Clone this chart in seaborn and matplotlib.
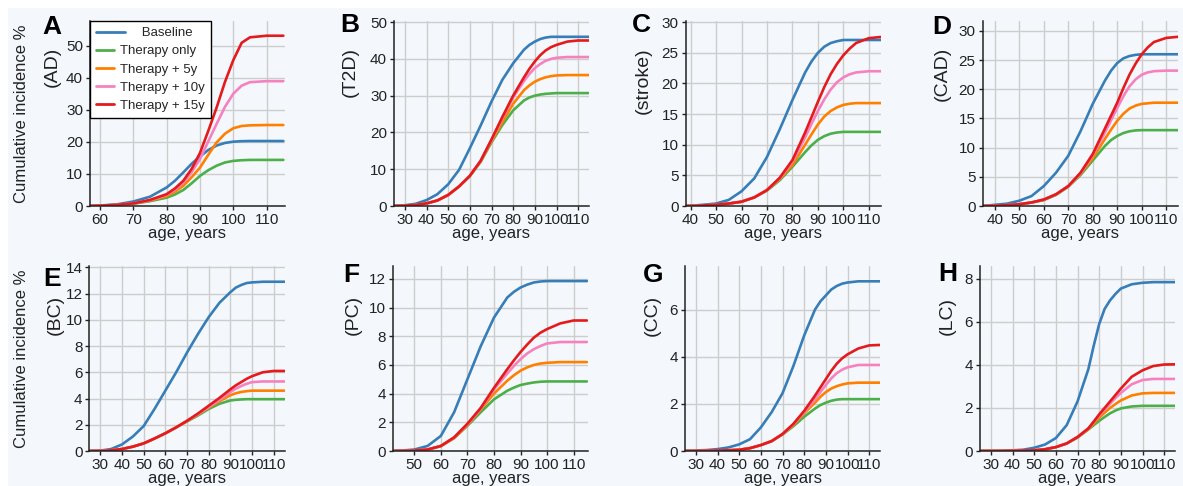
import numpy as np
import pandas as pd
import matplotlib
matplotlib.use('Agg')
import matplotlib.pyplot as plt
import seaborn as sns
from matplotlib.patches import Rectangle

series = ['Baseline', 'Therapy only', 'Therapy + 5y', 'Therapy + 10y', 'Therapy + 15y']
colors = ['#377eb8', '#4daf4a', '#ff7f00', '#f781bf', '#e41a1c']

# A - AD
ad_age = [57, 60, 65, 70, 75, 80, 82.5, 85, 87.5, 90, 92.5, 95, 97.5, 100, 102.5, 105, 110, 115]
ad_base = [0, 0.15, 0.5, 1.4, 2.9, 5.8, 7.9, 10.5, 13.2, 15.5, 17.5, 18.9, 19.7, 20.1, 20.25, 20.3, 20.3, 20.3]
ad_ther = [0, 0.1, 0.3, 0.7, 1.5, 2.6, 3.6, 5.0, 7.1, 9.4, 11.2, 12.6, 13.6, 14.1, 14.3, 14.4, 14.4, 14.4]
ad_5y = [0, 0.1, 0.35, 0.8, 1.7, 3.1, 4.5, 6.3, 9.0, 12.0, 16.0, 19.9, 22.6, 24.3, 25.0, 25.2, 25.3, 25.3]
ad_10y = [0, 0.1, 0.35, 0.8, 1.8, 3.5, 5.1, 7.3, 10.6, 14.7, 20.2, 25.7, 31.0, 35.1, 37.6, 38.7, 39.0, 39.0]
ad_15y = [0, 0.1, 0.35, 0.8, 1.9, 3.7, 5.5, 7.9, 11.6, 16.6, 23.5, 30.8, 38.8, 45.6, 51.0, 52.7, 53.2, 53.2]

# B - T2D
t2d_age = [25, 30, 35, 40, 45, 50, 55, 60, 65, 70, 75, 80, 85, 87.5, 90, 92.5, 95, 97.5, 100, 105, 110, 115]
t2d_base = [0, 0.2, 0.6, 1.6, 3.2, 5.9, 9.8, 15.7, 21.9, 28.4, 34.3, 38.8, 42.5, 43.8, 44.7, 45.4, 45.8, 46.0, 46.0, 46.0, 46.0, 46.0]
t2d_ther = [0, 0.1, 0.3, 0.7, 1.5, 3.0, 5.3, 8.1, 12.0, 17.3, 22.0, 26.0, 28.7, 29.5, 30.0, 30.3, 30.5, 30.6, 30.7, 30.7, 30.7, 30.7]
t2d_5y = [0, 0.1, 0.3, 0.7, 1.5, 3.0, 5.3, 8.2, 12.2, 17.6, 22.8, 27.8, 31.5, 32.8, 33.8, 34.5, 35.0, 35.3, 35.5, 35.6, 35.6, 35.6]
t2d_10y = [0, 0.1, 0.3, 0.7, 1.5, 3.0, 5.3, 8.2, 12.3, 17.9, 23.8, 29.5, 34.0, 35.9, 37.5, 38.6, 39.5, 40.0, 40.3, 40.5, 40.5, 40.5]
t2d_15y = [0, 0.1, 0.3, 0.7, 1.5, 3.0, 5.3, 8.2, 12.3, 18.1, 24.2, 30.0, 35.0, 37.3, 39.3, 41.0, 42.3, 43.2, 43.8, 44.7, 45.0, 45.0]

# C - stroke
str_age = [38, 40, 45, 50, 55, 60, 65, 70, 75, 80, 85, 87.5, 90, 92.5, 95, 97.5, 100, 102.5, 105, 110, 115]
str_base = [0, 0.05, 0.2, 0.4, 1.0, 2.4, 4.5, 8.0, 12.5, 17.3, 21.8, 23.6, 25.0, 26.0, 26.6, 26.9, 27.1, 27.1, 27.1, 27.1, 27.1]
str_ther = [0, 0, 0.1, 0.2, 0.4, 0.7, 1.4, 2.5, 4.2, 6.4, 8.8, 9.9, 10.8, 11.4, 11.8, 12.0, 12.1, 12.1, 12.1, 12.1, 12.1]
str_5y = [0, 0, 0.1, 0.2, 0.4, 0.7, 1.4, 2.6, 4.4, 6.7, 10.0, 11.7, 13.3, 14.6, 15.5, 16.1, 16.5, 16.7, 16.8, 16.8, 16.8]
str_10y = [0, 0, 0.1, 0.2, 0.4, 0.7, 1.4, 2.6, 4.5, 7.2, 11.2, 13.4, 15.5, 17.4, 19.0, 20.2, 21.0, 21.5, 21.8, 22.0, 22.0]
str_15y = [0, 0, 0.1, 0.2, 0.4, 0.7, 1.4, 2.6, 4.6, 7.5, 12.0, 14.5, 17.0, 19.4, 21.5, 23.2, 24.6, 25.7, 26.6, 27.4, 27.6]

# D - CAD
cad_age = [35, 40, 45, 50, 55, 60, 65, 70, 75, 80, 85, 87.5, 90, 92.5, 95, 97.5, 100, 102.5, 105, 110, 115]
cad_base = [0, 0.2, 0.4, 0.9, 1.7, 3.4, 5.7, 8.6, 12.8, 17.5, 21.5, 23.2, 24.5, 25.3, 25.7, 25.9, 26.0, 26.0, 26.0, 26.0, 26.0]
cad_ther = [0, 0.05, 0.15, 0.3, 0.6, 1.0, 1.9, 3.3, 5.3, 7.8, 10.3, 11.3, 12.0, 12.5, 12.8, 12.95, 13.0, 13.0, 13.0, 13.0, 13.0]
cad_5y = [0, 0.05, 0.15, 0.3, 0.6, 1.1, 2.0, 3.4, 5.5, 8.2, 11.5, 13.1, 14.6, 15.8, 16.7, 17.2, 17.5, 17.6, 17.7, 17.7, 17.7]
cad_10y = [0, 0.05, 0.15, 0.3, 0.6, 1.1, 2.0, 3.4, 5.6, 8.7, 12.6, 14.7, 16.8, 18.8, 20.5, 21.7, 22.5, 22.9, 23.1, 23.2, 23.2]
cad_15y = [0, 0.05, 0.15, 0.3, 0.6, 1.1, 2.0, 3.4, 5.7, 8.9, 13.3, 15.5, 17.7, 20.2, 22.5, 24.4, 26.0, 27.2, 28.1, 28.8, 29.0]

# E - BC
bc_age = [25, 30, 35, 40, 45, 50, 55, 60, 65, 70, 75, 80, 85, 90, 92.5, 95, 97.5, 100, 105, 110, 115]
bc_base = [0, 0.03, 0.15, 0.5, 1.1, 1.9, 3.2, 4.6, 6.0, 7.5, 8.9, 10.2, 11.3, 12.1, 12.45, 12.65, 12.8, 12.85, 12.9, 12.9, 12.9]
bc_ther = [0, 0, 0.05, 0.15, 0.33, 0.58, 0.95, 1.35, 1.8, 2.25, 2.7, 3.2, 3.6, 3.85, 3.9, 3.93, 3.95, 3.95, 3.95, 3.95, 3.95]
bc_5y = [0, 0, 0.05, 0.15, 0.33, 0.58, 0.95, 1.35, 1.8, 2.28, 2.78, 3.3, 3.8, 4.25, 4.4, 4.5, 4.56, 4.6, 4.6, 4.6, 4.6]
bc_10y = [0, 0, 0.05, 0.15, 0.33, 0.58, 0.95, 1.35, 1.8, 2.3, 2.8, 3.35, 3.9, 4.5, 4.75, 4.95, 5.12, 5.25, 5.3, 5.3, 5.3]
bc_15y = [0, 0, 0.05, 0.15, 0.33, 0.58, 0.95, 1.35, 1.8, 2.3, 2.85, 3.45, 4.05, 4.7, 5.0, 5.25, 5.5, 5.7, 6.0, 6.1, 6.1]

# F - PC
pc_age = [42, 45, 50, 55, 60, 65, 70, 75, 80, 85, 87.5, 90, 92.5, 95, 97.5, 100, 105, 110, 115]
pc_base = [0, 0.03, 0.1, 0.35, 1.05, 2.7, 5.0, 7.3, 9.3, 10.7, 11.1, 11.4, 11.6, 11.75, 11.82, 11.85, 11.85, 11.85, 11.85]
pc_ther = [0, 0, 0.03, 0.1, 0.33, 0.9, 1.75, 2.7, 3.6, 4.2, 4.42, 4.6, 4.7, 4.78, 4.83, 4.85, 4.85, 4.85, 4.85]
pc_5y = [0, 0, 0.03, 0.1, 0.35, 0.9, 1.8, 2.9, 4.0, 4.9, 5.28, 5.6, 5.83, 6.0, 6.1, 6.15, 6.2, 6.2, 6.2]
pc_10y = [0, 0, 0.03, 0.1, 0.35, 0.95, 1.85, 2.95, 4.3, 5.4, 5.93, 6.4, 6.8, 7.1, 7.32, 7.5, 7.6, 7.6, 7.6]
pc_15y = [0, 0, 0.03, 0.1, 0.35, 0.95, 1.9, 3.0, 4.4, 5.7, 6.32, 6.9, 7.42, 7.9, 8.25, 8.5, 8.9, 9.1, 9.1]

# G - CC
cc_age = [25, 30, 35, 40, 45, 50, 55, 60, 65, 70, 75, 80, 85, 87.5, 90, 92.5, 95, 97.5, 100, 105, 110, 115]
cc_base = [0, 0.02, 0.04, 0.08, 0.15, 0.28, 0.5, 1.0, 1.65, 2.45, 3.6, 4.9, 6.0, 6.35, 6.6, 6.85, 7.0, 7.1, 7.15, 7.2, 7.2, 7.2]
cc_ther = [0, 0, 0.01, 0.02, 0.03, 0.05, 0.12, 0.25, 0.42, 0.7, 1.05, 1.45, 1.8, 1.95, 2.05, 2.13, 2.18, 2.2, 2.2, 2.2, 2.2, 2.2]
cc_5y = [0, 0, 0.01, 0.02, 0.03, 0.05, 0.12, 0.25, 0.42, 0.71, 1.1, 1.6, 2.05, 2.3, 2.5, 2.65, 2.75, 2.82, 2.87, 2.9, 2.9, 2.9]
cc_10y = [0, 0, 0.01, 0.02, 0.03, 0.05, 0.12, 0.25, 0.42, 0.72, 1.13, 1.65, 2.2, 2.5, 2.8, 3.08, 3.3, 3.45, 3.55, 3.65, 3.65, 3.65]
cc_15y = [0, 0, 0.01, 0.02, 0.03, 0.05, 0.12, 0.25, 0.42, 0.72, 1.15, 1.7, 2.35, 2.7, 3.05, 3.4, 3.7, 3.93, 4.1, 4.35, 4.48, 4.5]

# H - LC
lc_age = [25, 30, 35, 40, 45, 50, 55, 60, 65, 70, 75, 77.5, 80, 82.5, 85, 87.5, 90, 95, 100, 105, 110, 115]
lc_base = [0, 0, 0.01, 0.03, 0.06, 0.15, 0.3, 0.6, 1.2, 2.3, 3.8, 4.9, 5.9, 6.6, 7.0, 7.3, 7.55, 7.75, 7.82, 7.85, 7.85, 7.85]
lc_ther = [0, 0, 0, 0.01, 0.02, 0.03, 0.08, 0.18, 0.35, 0.62, 1.0, 1.2, 1.4, 1.58, 1.75, 1.88, 1.98, 2.07, 2.1, 2.1, 2.1, 2.1]
lc_5y = [0, 0, 0, 0.01, 0.02, 0.03, 0.08, 0.18, 0.35, 0.64, 1.02, 1.28, 1.55, 1.78, 2.0, 2.18, 2.35, 2.58, 2.68, 2.7, 2.7, 2.7]
lc_10y = [0, 0, 0, 0.01, 0.02, 0.03, 0.08, 0.18, 0.35, 0.65, 1.05, 1.35, 1.65, 1.93, 2.2, 2.46, 2.7, 3.1, 3.3, 3.35, 3.35, 3.35]
lc_15y = [0, 0, 0, 0.01, 0.02, 0.03, 0.08, 0.18, 0.35, 0.65, 1.05, 1.37, 1.7, 2.0, 2.3, 2.6, 2.9, 3.45, 3.75, 3.95, 4.02, 4.03]

panel_letters = ['A', 'B', 'C', 'D', 'E', 'F', 'G', 'H']
panel_names = ['(AD)', '(T2D)', '(stroke)', '(CAD)', '(BC)', '(PC)', '(CC)', '(LC)']
panel_ages = [ad_age, t2d_age, str_age, cad_age, bc_age, pc_age, cc_age, lc_age]
panel_vals = [
    [ad_base, ad_ther, ad_5y, ad_10y, ad_15y],
    [t2d_base, t2d_ther, t2d_5y, t2d_10y, t2d_15y],
    [str_base, str_ther, str_5y, str_10y, str_15y],
    [cad_base, cad_ther, cad_5y, cad_10y, cad_15y],
    [bc_base, bc_ther, bc_5y, bc_10y, bc_15y],
    [pc_base, pc_ther, pc_5y, pc_10y, pc_15y],
    [cc_base, cc_ther, cc_5y, cc_10y, cc_15y],
    [lc_base, lc_ther, lc_5y, lc_10y, lc_15y],
]
y_ticks = [range(0, 51, 10), range(0, 51, 10), range(0, 31, 5), range(0, 31, 5),
           range(0, 15, 2), range(0, 13, 2), range(0, 7, 2), range(0, 9, 2)]
x_ticks = [range(60, 111, 10), range(30, 111, 10), range(40, 111, 10), range(40, 111, 10),
           range(30, 111, 10), range(50, 111, 10), range(30, 111, 10), range(30, 111, 10)]
y_max = [57.8, 50.3, 30.2, 31.7, 14.1, 12.9, 7.85, 8.6]
x_max = [115.5, 115, 114.6, 114.6, 115, 115.4, 115, 115]

BG = '#f4f8fc'
sns.set_theme(style='whitegrid')
plt.rcParams['font.family'] = ['Liberation Sans', 'DejaVu Sans']

W, H = 1183, 486
fig = plt.figure(figsize=(W / 100, H / 100), dpi=100)
fig.patch.set_facecolor('white')
fig.patches.append(Rectangle((8 / W, 0), 1, 1 - 8 / H, transform=fig.transFigure,
                             facecolor=BG, edgecolor='none', zorder=-10))

# pixel boxes: left, top
lefts = [90, 394, 685.5, 982.5, 89.5, 393, 685, 980]
tops = [21, 21, 21, 21, 266, 266, 266, 266]
aw, ah = 195, 185
lab_off = [38, 44, 42, 40, 34, 40, 33, 33]
lab_top = [47, 47, 47, 47, 295, 295, 295, 297]
letter_pos = [(42, 15), (340, 13), (632, 13), (932, 15), (43, 267), (343, 263), (643, 263), (938, 262)]

for i in range(8):
    ax = fig.add_axes([lefts[i] / W, 1 - (tops[i] + ah) / H, aw / W, ah / H])
    ax.set_facecolor('none')
    ages = panel_ages[i]
    df = pd.DataFrame({
        'age': ages * 5,
        'value': sum(panel_vals[i], []),
        'group': [s for s in series for _ in ages],
    })
    sns.lineplot(data=df, x='age', y='value', hue='group', hue_order=series,
                 palette=colors, linewidth=1.9, ax=ax, legend=(i == 0))
    for ln in ax.get_lines():
        ln.set_solid_joinstyle('round')
    ax.set_xlim(ages[0], x_max[i])
    ax.set_ylim(0, y_max[i])
    ax.set_xticks(list(x_ticks[i]))
    ax.set_yticks(list(y_ticks[i]))
    ax.grid(True, color='#cdcdcd', linewidth=1.0)
    for s in ['top', 'right']:
        ax.spines[s].set_visible(False)
    for s in ['left', 'bottom']:
        ax.spines[s].set_color('#222222')
        ax.spines[s].set_linewidth(1.1)
    ax.tick_params(axis='both', labelsize=11, colors='#222222', length=3, width=1,
                   direction='out', pad=2, left=True, bottom=True)
    ax.set_xlabel('age, years', fontsize=12, color='#222222', labelpad=-1)
    ax.set_ylabel(panel_names[i], fontsize=14, color='#222222',
                  ha='right', va='center', rotation_mode='anchor')
    ax.yaxis.set_label_coords(-lab_off[i] / aw, (ah - (lab_top[i] - tops[i])) / ah)
    if i in (0, 4):
        ax.text(-(lefts[i] - 22) / aw, 0.5, 'Cumulative incidence %', transform=ax.transAxes,
                rotation=90, ha='center', va='center', fontsize=12, color='#222222')
    lx, ly = letter_pos[i]
    fig.text(lx / W, 1 - ly / H, panel_letters[i], fontsize=19, fontweight='bold',
             ha='left', va='top', color='black')
    if i == 0:
        handles, labels = ax.get_legend_handles_labels()
        labels = ['      Baseline'] + labels[1:]
        leg = ax.legend(handles, labels, loc='upper left', bbox_to_anchor=(0, 1),
                        borderaxespad=0, fontsize=9.5, frameon=True, fancybox=False,
                        handlelength=1.4, handletextpad=0.45, labelspacing=0.45,
                        borderpad=0.45, facecolor='white', edgecolor='black', framealpha=1)
        leg.get_frame().set_linewidth(1.0)
        for ln in leg.get_lines():
            ln.set_linewidth(2)
        # the Baseline key is drawn longer in the original
        base_key = leg.get_lines()[0]
        xd = np.asarray(base_key.get_xdata(), dtype=float)
        base_key.set_xdata(xd[0] + (xd - xd[0]) * 1.6)

fig.savefig('out.png', dpi=100, facecolor=fig.get_facecolor())
